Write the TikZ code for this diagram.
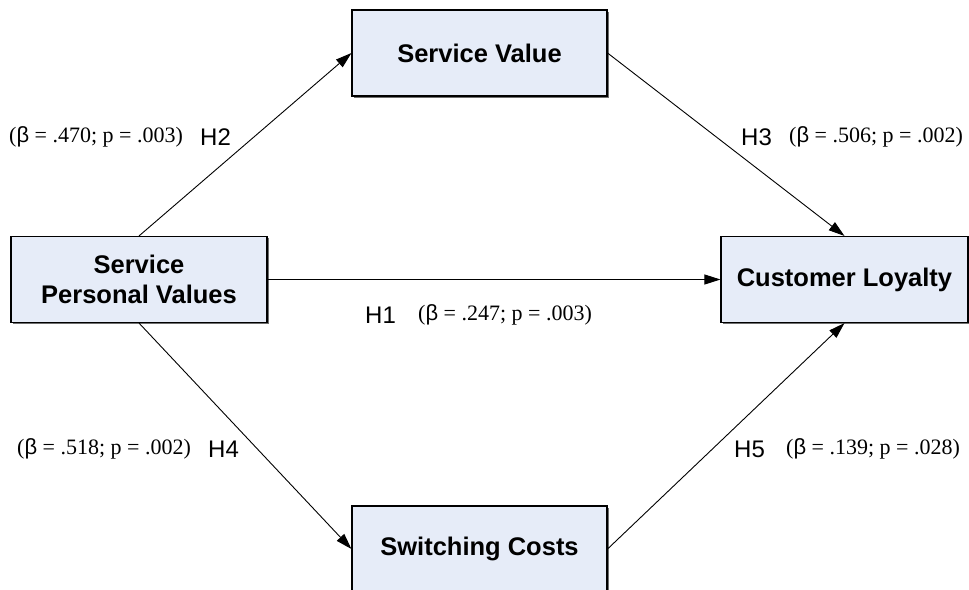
\documentclass[tikz,border=0pt]{standalone}
\usepackage{fontspec}
\setmainfont{Liberation Serif}
\setsansfont{Liberation Sans}
\usetikzlibrary{arrows.meta,shadows}
\definecolor{boxfill}{RGB}{230,236,248}
\definecolor{shadowgray}{RGB}{110,110,110}
\tikzset{
  varbox/.style={draw=black, line width=1.1pt, fill=boxfill, inner sep=0pt,
    minimum height=86pt, align=center,
    font=\sffamily\bfseries\fontsize{25.5}{30}\selectfont,
    drop shadow={shadow xshift=1.6pt, shadow yshift=-1.6pt, fill=shadowgray, opacity=1}},
  path/.style={draw=black, line width=0.9pt, -{Triangle[length=16pt,width=10pt]}},
  hlab/.style={inner sep=0pt, font=\sffamily\fontsize{24}{28}\selectfont},
  stat/.style={inner sep=0pt, font=\fontsize{22}{26}\selectfont}
}
\newcommand{\bt}{{\sffamily β}}
\begin{document}
\begin{tikzpicture}[x=1pt,y=-1pt]
\useasboundingbox (0,0) rectangle (969,589);
\node[varbox, minimum width=255pt] (SV) at (479.5,53) {Service Value};
\node[varbox, minimum width=256pt] (SPV) at (139,279.5) {Service\\Personal Values};
\node[varbox, minimum width=247pt] (CL) at (844.5,279.5) {Customer Loyalty};
\node[varbox, minimum width=255pt] (SC) at (479.5,549) {Switching Costs};

\draw[path] (SPV.north) -- (SV.west);
\draw[path] (SV.east) -- (CL.north);
\draw[path] (SPV.east) -- (CL.west);
\draw[path] (SPV.south) -- (SC.west);
\draw[path] (SC.east) -- (CL.south);

\node[stat, anchor=west] (s2) at (9,137) {(\bt{} = .470; p = .003)};
\node[hlab, anchor=west] (h2) at (200,137) {H2};
\node[hlab, anchor=west] (h3) at (741,137) {H3};
\node[stat, anchor=west] (s3) at (789,137) {(\bt{} = .506; p = .002)};
\node[hlab, anchor=west] (h1) at (365,315) {H1};
\node[stat, anchor=west] (s1) at (418,315) {(\bt{} = .247; p = .003)};
\node[stat, anchor=west] (s4) at (17,449) {(\bt{} = .518; p = .002)};
\node[hlab, anchor=west] (h4) at (208,449) {H4};
\node[hlab, anchor=west] (h5) at (734,449) {H5};
\node[stat, anchor=west] (s5) at (786,449) {(\bt{} = .139; p = .028)};
\end{tikzpicture}
\end{document}
